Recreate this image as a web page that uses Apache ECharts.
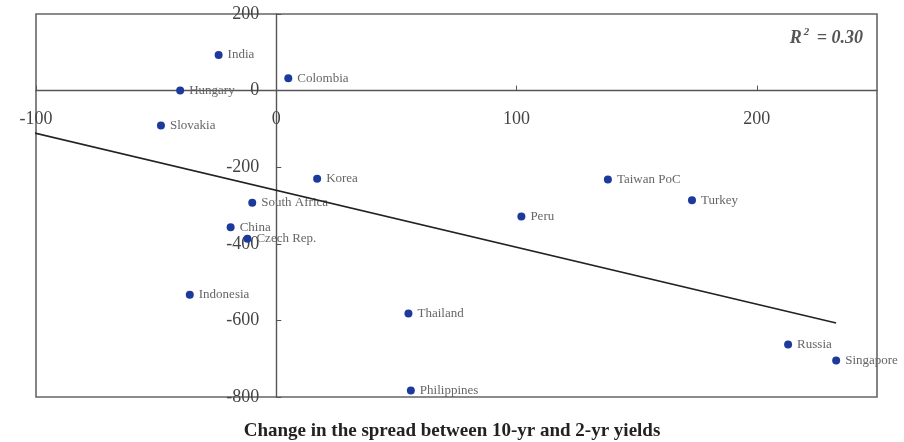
<!DOCTYPE html>
<html>
<head>
<meta charset="utf-8">
<script src="https://cdn.jsdelivr.net/npm/echarts@6/dist/echarts.min.js"></script>
<style>html,body{margin:0;padding:0;background:#fff}#c{width:904px;height:442px}</style>
</head>
<body>
<div id="c"></div>
<script>
var countries = ["India","Colombia","Hungary","Slovakia","Korea","South Africa","China","Czech Rep.","Indonesia","Thailand","Philippines","Peru","Taiwan PoC","Turkey","Russia","Singapore"];
var xValues = [-24, 5, -40, -48, 17, -10, -19, -12, -36, 55, 56, 102, 138, 173, 213, 233];
var yValues = [93, 32, 0, -91, -230, -293, -357, -387, -533, -582, -783, -329, -232, -286, -663, -705];
var trendX = [-103, 233];
var trendY = [-107, -607];
var xTicks = {min: -100, max: 250, interval: 100};
var yTicks = {min: -800, max: 200, interval: 200};
var xTitle = "Change in the spread between 10-yr and 2-yr yields";
var r2Text = "0.30";

var serif = "Liberation Serif";
var W = 904, H = 442;
var G = {left: 36, top: 14, right: 27, bottom: 45};
var gw = W - G.left - G.right, gh = H - G.top - G.bottom;
// shift axes so they sit on the zero lines
var xOffset = -gh * (0 - yTicks.min) / (yTicks.max - yTicks.min);
var yOffset = -gw * (0 - xTicks.min) / (xTicks.max - xTicks.min);

var points = countries.map(function(n, i){ return {name: n, value: [xValues[i], yValues[i]]}; });
var trend = trendX.map(function(x, i){ return [x, trendY[i]]; });

var chart = echarts.init(document.getElementById('c'));
chart.setOption({
  animation: false,
  backgroundColor: '#fff',
  title: {
    text: '{i|R}{s|2}{i| = ' + r2Text + '}',
    right: 36, top: 22,
    textStyle: {
      rich: {
        i: {fontFamily: serif, fontStyle: 'italic', fontSize: 18, color: '#555'},
        s: {fontFamily: serif, fontStyle: 'italic', fontSize: 11, color: '#555', verticalAlign: 'top', padding: [0, 3, 12, 2]}
      }
    }
  },
  graphic: [{
    type: 'text', left: 'center', top: 422,
    style: {text: xTitle, font: 'bold 19px "Liberation Serif"', fill: '#222'}
  }],
  grid: {left: G.left, top: G.top, right: G.right, bottom: G.bottom, containLabel: false, outerBoundsMode: 'none',
    show: true, borderColor: '#666', borderWidth: 1.6},
  xAxis: {
    type: 'value', min: xTicks.min, max: xTicks.max, interval: xTicks.interval,
    position: 'bottom', offset: xOffset,
    axisLine: {onZero: false, lineStyle: {color: '#555', width: 1.4}},
    axisTick: {inside: true, length: 5, lineStyle: {color: '#555'}},
    axisLabel: {margin: 20, fontFamily: serif, fontSize: 18, color: '#444',
      showMaxLabel: false},
    splitLine: {show: false}
  },
  yAxis: {
    type: 'value', min: yTicks.min, max: yTicks.max, interval: yTicks.interval,
    position: 'left', offset: yOffset,
    axisLine: {onZero: false, lineStyle: {color: '#555', width: 1.4}},
    axisTick: {inside: true, length: 5, lineStyle: {color: '#555'}},
    axisLabel: {margin: 17, fontFamily: serif, fontSize: 18, color: '#444'},
    splitLine: {show: false}
  },
  series: [{
    type: 'line', data: trend, symbol: 'none', clip: false, silent: true,
    lineStyle: {color: '#222', width: 1.6}
  }, {
    type: 'scatter', data: points, symbolSize: 8,
    itemStyle: {color: '#1b3a9b', opacity: 1},
    label: {show: true, position: 'right', distance: 5, formatter: '{b}',
      fontFamily: serif, fontSize: 13, color: '#666'}
  }]
});
</script>
</body>
</html>
